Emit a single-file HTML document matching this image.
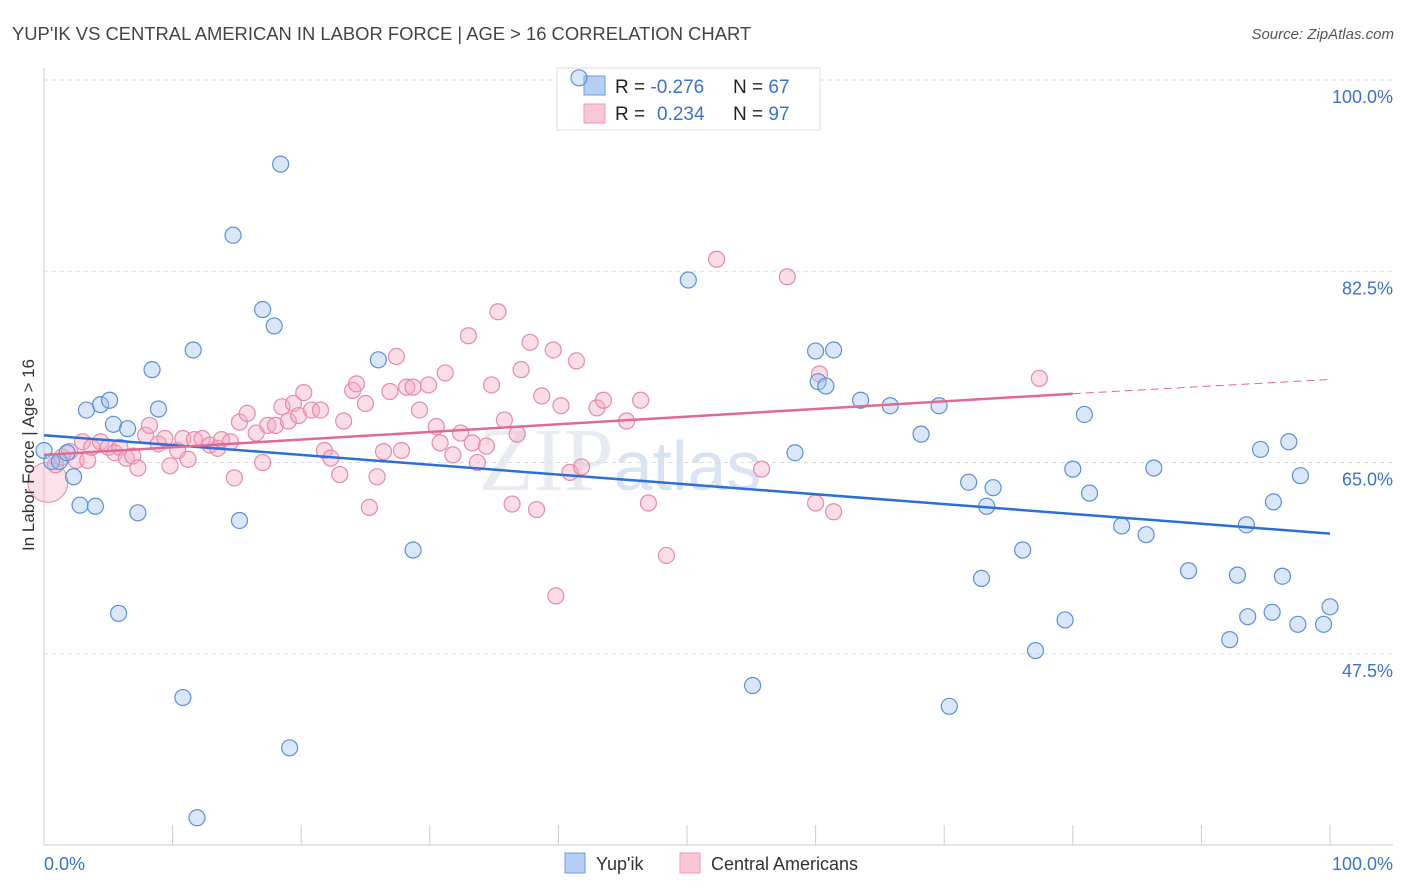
<!DOCTYPE html>
<html><head><meta charset="utf-8"><style>
body{margin:0;background:#fff;font-family:"Liberation Sans",sans-serif;}
svg{display:block}
</style></head><body>
<svg id="chart" width="1406" height="892">
<text x="12" y="40" font-size="18.4" fill="#444">YUP'IK VS CENTRAL AMERICAN IN LABOR FORCE | AGE &gt; 16 CORRELATION CHART</text>
<text x="1394" y="39" font-size="15" fill="#555" font-style="italic" text-anchor="end">Source: ZipAtlas.com</text>
<text x="620" y="490" font-size="90" fill="#e8ecf2" font-family="Liberation Serif" text-anchor="middle">ZIP<tspan font-family="Liberation Sans" font-size="70" fill="#d8e4f4">atlas</tspan></text>
<g id="grid"></g>
<g>
<rect x="557" y="68" width="263" height="62" fill="#fff" stroke="#ddd"/>
<rect x="584" y="76" width="21" height="19" fill="#b5d0f4" stroke="#6a9ce0"/>
<rect x="584" y="104" width="21" height="19" fill="#f9c6d6" stroke="#ea9ab4"/>
<text x="615" y="93" font-size="19" fill="#222">R = <tspan fill="#3a72d0">-0.276</tspan><tspan x="733">N = </tspan><tspan fill="#3a72d0">67</tspan></text>
<text x="615" y="120" font-size="19" fill="#222">R = <tspan fill="#3a72d0" x="657">0.234</tspan><tspan x="733">N = </tspan><tspan fill="#3a72d0">97</tspan></text>
</g>
<g id="pts"></g>
<g id="lines"></g>
<text transform="translate(34,455) rotate(-90)" font-size="17" fill="#333" text-anchor="middle">In Labor Force | Age &gt; 16</text>
<text x="44" y="870" font-size="18" fill="#3a72d0">0.0%</text>
<text x="1393" y="870" font-size="18" fill="#3a72d0" text-anchor="end">100.0%</text>
<g>
<rect x="565" y="853" width="20" height="20" fill="#b5d0f4" stroke="#6a9ce0"/>
<text x="596" y="870" font-size="18" fill="#333">Yup'ik</text>
<rect x="680" y="853" width="20" height="20" fill="#f9c6d6" stroke="#ea9ab4"/>
<text x="711" y="870" font-size="18" fill="#333">Central Americans</text>
</g>
</svg>
<script>
const yTicks=[100,82.5,65,47.5];
const yTickLabels=["100.0%","82.5%","65.0%","47.5%"];
const xTicks=[0,10,20,30,40,50,60,70,80,90,100];
const bluePx=[[44,450],[52,461],[60,461],[67,453],[74,477],[80,505],[95,506],[86,410],[100,405],[110,400],[113,424],[127,429],[118,613],[138,513],[152,370],[159,409],[183,697],[193,350],[197,818],[233,235],[239,521],[262,310],[274,326],[280,164],[290,748],[379,360],[413,550],[579,78],[688,280],[752,685],[795,453],[815,351],[818,382],[826,386],[834,350],[860,400],[890,406],[921,434],[939,406],[949,706],[969,482],[982,578],[986,506],[993,488],[1023,550],[1036,650],[1065,620],[1073,469],[1084,415],[1090,493],[1122,526],[1146,535],[1154,468],[1188,571],[1230,640],[1238,575],[1247,525],[1248,617],[1261,449],[1272,612],[1274,502],[1282,576],[1289,442],[1298,624],[1300,476],[1323,624],[1330,607]];
const pinkPx=[[55,465],[62,457],[70,452],[76,460],[82,442],[88,460],[92,447],[100,442],[108,447],[115,453],[120,447],[126,458],[133,456],[138,468],[145,435],[150,425],[158,444],[165,438],[170,466],[178,450],[183,438],[188,459],[195,440],[202,438],[210,445],[217,448],[222,440],[230,442],[234,478],[240,422],[247,413],[256,433],[262,463],[268,425],[276,425],[282,407],[288,421],[293,403],[298,416],[304,393],[312,410],[320,410],[324,451],[331,458],[340,475],[344,421],[352,390],[356,384],[365,404],[370,507],[377,477],[383,452],[390,392],[396,357],[401,450],[407,387],[413,387],[420,410],[428,385],[436,427],[440,443],[445,373],[453,455],[461,433],[468,336],[472,443],[478,463],[487,446],[492,385],[498,312],[505,420],[512,504],[517,434],[521,370],[530,342],[536,510],[542,396],[553,350],[556,596],[561,406],[570,472],[576,361],[582,467],[597,408],[603,400],[626,421],[641,400],[648,503],[667,556],[716,259],[762,469],[787,277],[815,503],[820,374],[833,512],[1040,378]];
const px2x=p=>(p-44)/12.86, py2y=p=>100-(p-80)/10.93;
const blueX=bluePx.map(p=>+px2x(p[0]).toFixed(1)), blueY=bluePx.map(p=>+py2y(p[1]).toFixed(1));
const pinkX=pinkPx.map(p=>+px2x(p[0]).toFixed(1)), pinkY=pinkPx.map(p=>+py2y(p[1]).toFixed(1));
const blueTrend=[[0,67.5],[100,58.5]];
const pinkTrend=[[0,65.7],[80,71.3],[100,72.6]];
const X=v=>44+v*12.86, Y=v=>80+(100-v)*10.93;
const NS="http://www.w3.org/2000/svg";
function mk(tag,attrs,parent){const e=document.createElementNS(NS,tag);for(const k in attrs)e.setAttribute(k,attrs[k]);parent.appendChild(e);return e;}
const grid=document.getElementById('grid');
yTicks.forEach((t,i)=>{
 const l=mk('line',{x1:44,x2:1393,y1:Y(t),y2:Y(t),stroke:'#ddd','stroke-dasharray':'4,4'},grid);
 
 
 const tx=mk('text',{x:1393,y:Y(t)+23,'font-size':18,fill:'#3a72d0','text-anchor':'end'},grid);
 tx.textContent=yTickLabels[i];
 
 
});
mk('line',{x1:44,x2:44,y1:68,y2:845,stroke:'#ccc'},grid);
mk('line',{x1:44,x2:1393,y1:845,y2:845,stroke:'#ccc'},grid);
xTicks.forEach(t=>{const l=mk('line',{x1:X(t),x2:X(t),y1:825,y2:845,stroke:'#ccc'},grid);
 
 });
const pts=document.getElementById('pts');
const big=mk('circle',{cx:X(0.3),cy:Y(63.2),r:20,fill:'rgba(245,170,195,0.35)',stroke:'#e88aa8','stroke-width':1},pts);


pinkX.forEach((x,i)=>{const c=mk('circle',{cx:X(x),cy:Y(pinkY[i]),r:8,fill:'rgba(245,170,195,0.4)',stroke:'#e88aa8','stroke-width':1.2},pts);
 
 });
blueX.forEach((x,i)=>{const c=mk('circle',{cx:X(x),cy:Y(blueY[i]),r:8,fill:'rgba(160,195,240,0.4)',stroke:'#5b8fdc','stroke-width':1.2},pts);
 
 });
const lines=document.getElementById('lines');
let l=mk('line',{x1:X(blueTrend[0][0]),y1:Y(blueTrend[0][1]),x2:X(blueTrend[1][0]),y2:Y(blueTrend[1][1]),stroke:'#2d6fd6','stroke-width':2.5},lines);


l=mk('line',{x1:X(pinkTrend[0][0]),y1:Y(pinkTrend[0][1]),x2:X(pinkTrend[1][0]),y2:Y(pinkTrend[1][1]),stroke:'#e06a92','stroke-width':2.5},lines);


l=mk('line',{x1:X(pinkTrend[1][0]),y1:Y(pinkTrend[1][1]),x2:X(pinkTrend[2][0]),y2:Y(pinkTrend[2][1]),stroke:'#e06a92','stroke-width':1,'stroke-dasharray':'8,5'},lines);


</script>
</body></html>
